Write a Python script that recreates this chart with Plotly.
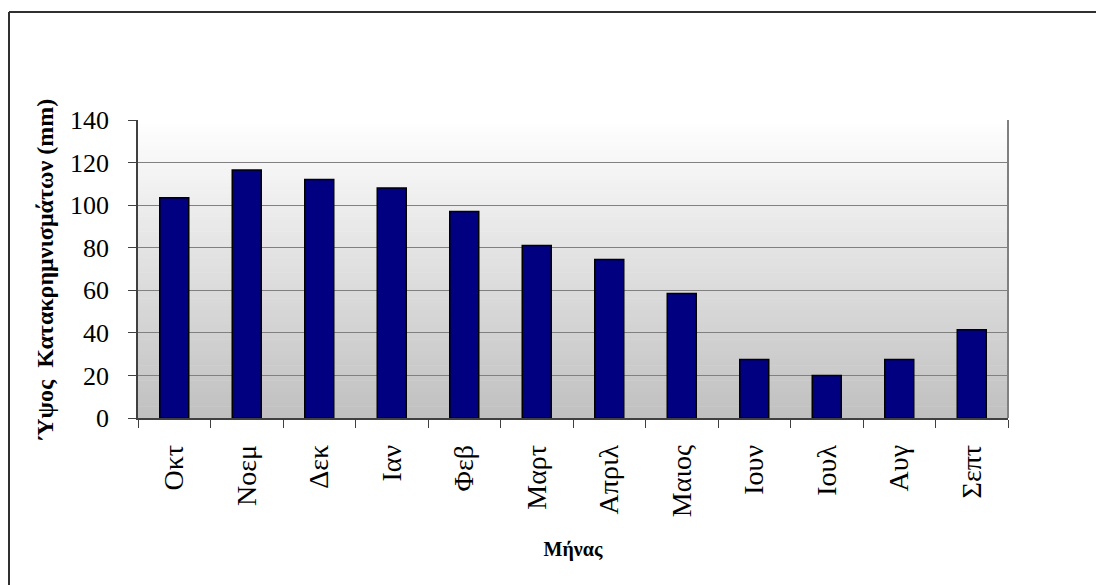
import plotly.graph_objects as go

months = ["Οκτ", "Νοεμ", "Δεκ", "Ιαν", "Φεβ", "Μαρτ", "Απριλ", "Μαιος", "Ιουν", "Ιουλ", "Αυγ", "Σεπτ"]
rain_mm = [103.5, 116.5, 112, 108, 97, 81, 74.5, 58.5, 27.5, 20, 27.5, 41.5]
y_ticks = [0, 20, 40, 60, 80, 100, 120, 140]

fig = go.Figure()
fig.add_trace(go.Bar(
    x=months, y=rain_mm,
    marker=dict(color="#000080", line=dict(color="#000000", width=1.5)),
))

shapes = []
n = 80
for i in range(n):
    v = int(round(255 - (255 - 192) * (1 - (i + 0.5) / n)))
    c = f"rgb({v},{v},{v})"
    shapes.append(dict(type="rect", xref="x domain", yref="y domain",
                       x0=0, x1=1, y0=i / n, y1=(i + 1) / n + 0.002,
                       fillcolor=c, line=dict(width=0), layer="below"))
# right edge of plot area
shapes.append(dict(type="line", xref="x domain", yref="y domain", x0=1, x1=1, y0=0, y1=1,
                   line=dict(color="#808080", width=2), layer="above"))
# chart border (top and left edges visible)
shapes.append(dict(type="line", xref="paper", yref="paper",
                   x0=(1 - 130) / 870, x1=2.0, y0=(410 - 4) / 298, y1=(410 - 4) / 298,
                   line=dict(color="#303030", width=2), layer="above"))
shapes.append(dict(type="line", xref="paper", yref="paper",
                   x0=(1 - 130) / 870, x1=(1 - 130) / 870, y0=-2.0, y1=(410 - 4) / 298,
                   line=dict(color="#303030", width=2), layer="above"))

fig.update_layout(
    width=1104, height=585,
    margin=dict(l=130, r=104, t=112, b=175),
    paper_bgcolor="white",
    plot_bgcolor="rgba(0,0,0,0)",
    showlegend=False,
    bargap=0.6,
    shapes=shapes,
    font=dict(family="Liberation Serif", color="black"),
    xaxis=dict(
        type="category",
        tickangle=-90,
        tickfont=dict(size=28, family="Liberation Serif"),
        ticks="outside", ticklen=8, tickcolor="#404040", tickson="boundaries",
        ticklabelstandoff=14,
        showline=True, linecolor="#404040", linewidth=1.5,
        showgrid=False,
        title=dict(text="<b>Μήνας</b>", font=dict(size=20, family="Liberation Serif"), standoff=26),
    ),
    yaxis=dict(
        range=[0, 140], tickvals=y_ticks,
        tickfont=dict(size=26, family="Liberation Serif"),
        ticks="outside", ticklen=8, tickcolor="#404040",
        ticklabelstandoff=14,
        showline=True, linecolor="#404040", linewidth=1.5,
        showgrid=True, gridcolor="#808080", gridwidth=1,
        zeroline=False,
        title=dict(text="<b>Ύψος  Κατακρημνισμάτων (mm)</b>", font=dict(size=24, family="Liberation Serif"), standoff=10),
    ),
)

fig.write_html("out.html")
